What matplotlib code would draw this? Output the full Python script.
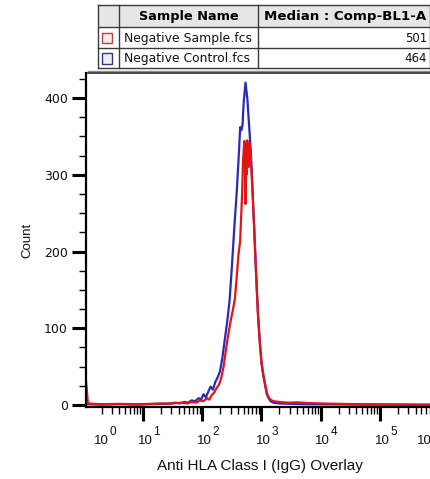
import numpy as np
import matplotlib
matplotlib.use('Agg')
import matplotlib.pyplot as plt
from matplotlib.ticker import FixedLocator, NullFormatter, LogLocator
from matplotlib.patches import Rectangle
from matplotlib.lines import Line2D
from matplotlib.transforms import Bbox

# ---------------- data ----------------
# histogram traces: log10(fluorescence) and counts
blue_log = [0.04, 0.07, 0.3, 0.6, 0.9, 1.1, 1.3, 1.45, 1.55, 1.62, 1.7, 1.76, 1.82, 1.88,
            1.94, 1.98, 2.02, 2.06, 2.10, 2.14, 2.18, 2.22, 2.26, 2.30, 2.34, 2.38, 2.42,
            2.46, 2.50, 2.54, 2.58, 2.62, 2.64, 2.66, 2.68, 2.70, 2.73, 2.76, 2.79, 2.82,
            2.85, 2.88, 2.91, 2.94, 2.97, 3.00, 3.03, 3.06, 3.09, 3.12, 3.15, 3.2, 3.3,
            3.5, 3.8, 4.2, 4.6, 5.0, 5.5, 6.0, 6.3]
blue_count = [8, 1, 0.5, 1, 0.5, 1, 1.5, 2, 3, 2, 4, 3, 6, 5,
              9, 7, 14, 10, 17, 24, 20, 30, 36, 44, 62, 85, 108,
              135, 180, 230, 275, 330, 362, 358, 365, 395, 420, 400, 365, 330,
              280, 225, 170, 120, 84, 55, 38, 26, 14, 9, 5, 3, 2,
              1.5, 1, 0.8, 0.5, 0.5, 0.3, 0.3, 0.3]

red_log = [0.04, 0.07, 0.3, 0.6, 0.9, 1.1, 1.3, 1.45, 1.55, 1.65, 1.75, 1.82, 1.9, 1.96,
           2.02, 2.08, 2.12, 2.16, 2.20, 2.24, 2.28, 2.32, 2.36, 2.40, 2.44, 2.48, 2.52,
           2.55, 2.58, 2.61, 2.64, 2.67, 2.69, 2.71, 2.72, 2.73, 2.74, 2.75, 2.76, 2.78,
           2.80, 2.82, 2.85, 2.88, 2.91, 2.94, 2.97, 3.00, 3.03, 3.06, 3.09, 3.12, 3.15,
           3.2, 3.3, 3.45, 3.6, 3.8, 4.0, 4.3, 4.7, 5.2, 5.6, 6.0, 6.3]
red_count = [30, 2, 1, 1.5, 1, 1.5, 2, 1.5, 2.5, 3, 2, 4, 3, 6,
             5, 9, 7, 13, 16, 22, 26, 35, 50, 72, 92, 110, 125,
             138, 165, 195, 214, 270, 320, 344, 330, 262, 340, 300, 345, 310,
             340, 320, 275, 222, 168, 118, 82, 56, 40, 28, 16, 10, 7,
             5, 4, 3, 3.5, 2.5, 2, 1.5, 1, 0.8, 0.5, 0.5, 0.5]

sample_names = ["Negative Sample.fcs", "Negative Control.fcs"]
medians = ["501", "464"]
header = ["Sample Name", "Median : Comp-BL1-A"]
y_ticks = [0, 100, 200, 300, 400]
y_minor = [25, 50, 75, 125, 150, 175, 225, 250, 275, 325, 350, 375, 425]
x_decades = [0, 1, 2, 3, 4, 5, 6]
xlabel = "Anti HLA Class I (IgG) Overlay"
ylabel = "Count"

# ---------------- styling ----------------
RED = "#e01515"
BLUE = "#2a2ab8"
W, H, DPI = 431, 479, 100

fig = plt.figure(figsize=(W / DPI, H / DPI), dpi=DPI)
fig.patch.set_facecolor("white")


def fx(px):
    return px / W


def fy(py):
    return 1 - py / H


# axes geometry (pixels)
AX_L, AX_T, AX_B = 86, 73, 407
DEC_PX = 59.25
X0_PX = 83.75  # pixel of 10^0
xmin_log = (AX_L - X0_PX) / DEC_PX
xmax_log = 6.3
ax_w_px = (xmax_log - xmin_log) * DEC_PX

ax = fig.add_axes([fx(AX_L), fy(AX_B), ax_w_px / W, (AX_B - AX_T) / H])
ax.set_xscale("log")
ax.set_xlim(10 ** xmin_log, 10 ** xmax_log)
ax.set_ylim(-2.6, 432.6)

ax.plot(10 ** np.array(blue_log), blue_count, color=BLUE, lw=1.6, clip_on=True)
ax.plot(10 ** np.array(red_log), red_count, color=RED, lw=1.6, clip_on=True)

for s in ["top", "right"]:
    ax.spines[s].set_visible(False)
for s in ["left", "bottom"]:
    ax.spines[s].set_linewidth(1.6)
    ax.spines[s].set_color("black")

ax.xaxis.set_major_locator(FixedLocator([10.0 ** d for d in x_decades]))
ax.xaxis.set_minor_locator(LogLocator(base=10, subs=np.arange(2, 10), numticks=20))
ax.xaxis.set_major_formatter(NullFormatter())
ax.xaxis.set_minor_formatter(NullFormatter())
ax.yaxis.set_major_locator(FixedLocator(y_ticks))
ax.yaxis.set_minor_locator(FixedLocator(y_minor))
ax.tick_params(axis="both", which="major", direction="out", length=10, width=2.2, color="black")
ax.tick_params(axis="both", which="minor", direction="out", length=5, width=1.0, color="black")
ax.tick_params(axis="y", which="major", labelsize=9, pad=3, labelcolor="#111111")
for lab in ax.get_yticklabels():
    lab.set_fontfamily("DejaVu Sans")

# x tick labels drawn as "10" + superscript exponent
label_shift = {0: 16, 6: -17}
for d in x_decades:
    px = X0_PX + d * DEC_PX + 2 + label_shift.get(d, 0)
    fig.text(fx(px), fy(441), "10", ha="center", va="center", fontsize=9.5,
             family="Liberation Sans", color="#111111")
    if px + 8 < W - 4:
        fig.text(fx(px + 8), fy(432), str(d), ha="left", va="center", fontsize=8.5,
                 family="Liberation Sans", color="#111111")

fig.text(fx(27), fy(240), ylabel, rotation=90, ha="center", va="center",
         fontsize=9.5, family="Liberation Sans", color="#111111")
fig.text(fx(260), fy(466), xlabel, ha="center", va="center",
         fontsize=11, family="Liberation Sans", color="#111111")

# ---------------- table ----------------
cols = [98.3, 119.3, 258.5, 430.5]
rows = [5.0, 27.3, 48.3, 68.3]
T = fig.transFigure

# header background
fig.patches.append(Rectangle((fx(cols[0]), fy(rows[1])), fx(cols[3] - cols[0]), (rows[1] - rows[0]) / H,
                             transform=T, facecolor="#e6e6e6", edgecolor="none"))
grid_kw = dict(transform=T, color="#3a3a3a", lw=1.0)
for r in rows:
    fig.lines.append(Line2D([fx(cols[0]), fx(cols[3])], [fy(r), fy(r)], **grid_kw))
for c in cols:
    fig.lines.append(Line2D([fx(c), fx(c)], [fy(rows[0]), fy(rows[3])], **grid_kw))

fig.text(fx((cols[1] + cols[2]) / 2), fy((rows[0] + rows[1]) / 2 + 0.5), header[0],
         ha="center", va="center", fontsize=9.3, fontweight="bold", family="DejaVu Sans")
fig.text(fx((cols[2] + cols[3]) / 2 + 1), fy((rows[0] + rows[1]) / 2 + 0.5), header[1],
         ha="center", va="center", fontsize=9.6, fontweight="bold", family="DejaVu Sans")

box_edges = ["#b04848", "#363680"]
box_faces = ["#fbecec", "#eeeef8"]
for i, (name, med) in enumerate(zip(sample_names, medians)):
    top, bot = rows[i + 1], rows[i + 2]
    cy = (top + bot) / 2
    fig.patches.append(Rectangle((fx(102), fy(cy + 5.2)), fx(10.2), 10.4 / H, transform=T,
                                 facecolor=box_faces[i], edgecolor=box_edges[i], lw=1.0))
    t = fig.text(fx(124.5), fy(cy + 0.5), name, ha="left", va="center", fontsize=8.9,
                 family="DejaVu Sans", color="#111111")
    t.set_clip_box(Bbox([[cols[1], H - bot], [cols[2] - 0.5, H - top]]))
    t.set_clip_on(True)
    fig.text(fx(427), fy(cy + 0.5), med, ha="right", va="center", fontsize=8.5,
             family="DejaVu Sans", color="#111111")

# separator lines below table
fig.lines.append(Line2D([fx(88), fx(431)], [fy(70.6), fy(70.6)], transform=T, color="#8a8a8a", lw=1.0))
fig.lines.append(Line2D([fx(88), fx(431)], [fy(73.2), fy(73.2)], transform=T, color="#2a2a2a", lw=1.2))

fig.savefig("out.png", dpi=DPI, facecolor="white")
